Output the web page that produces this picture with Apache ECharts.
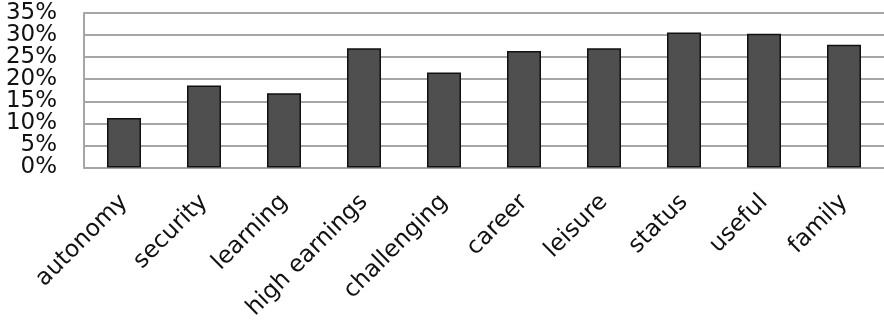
<!DOCTYPE html>
<html>
<head>
<meta charset="utf-8">
<script src="https://cdn.jsdelivr.net/npm/echarts@6/dist/echarts.min.js"></script>
<style>
  html, body { margin: 0; padding: 0; background: #ffffff; }
  #chart { width: 884px; height: 328px; }
</style>
</head>
<body>
<div id="chart"></div>
<script>
// Share of respondents naming each job attribute (percent)
const categories = ['autonomy', 'security', 'learning', 'high earnings', 'challenging',
                    'career', 'leisure', 'status', 'useful', 'family'];
const shares = [11.2, 18.6, 16.8, 27.0, 21.5, 26.4, 27.0, 30.6, 30.3, 27.8];

// Value axis ticks
const yMin = 0;
const yMax = 35;
const yStep = 5;

const labelFont = {
  fontFamily: 'DejaVu Sans',
  fontSize: 23,
  lineHeight: 16,
  color: '#111111'
};

// The percent labels are stacked tighter than their glyph height, so they are
// split across two overlaid value axes (multiples of 10 / odd multiples of 5);
// this keeps the library from dropping labels next to the min/max ones.
function percentAxis(showTens, withLines) {
  return {
    type: 'value',
    position: 'left',
    min: yMin,
    max: yMax,
    interval: yStep,
    axisLine: { show: withLines, lineStyle: { color: '#a6a6a6', width: 2 } },
    axisTick: { show: false },
    splitLine: { show: withLines, lineStyle: { color: '#a6a6a6', width: 2 } },
    axisLabel: Object.assign({
      margin: 27,
      showMinLabel: true,
      showMaxLabel: true,
      formatter: v => ((v % 10 === 0) === showTens ? v + '%' : '')
    }, labelFont)
  };
}

const chart = echarts.init(document.getElementById('chart'), null, { renderer: 'canvas' });

chart.setOption({
  animation: false,
  backgroundColor: '#ffffff',
  grid: { left: 84, right: 0, top: 13, bottom: 160.5, containLabel: false },
  xAxis: {
    type: 'category',
    data: categories,
    axisLine: { show: true, lineStyle: { color: '#a6a6a6', width: 2 } },
    axisTick: { show: false },
    axisLabel: {
      interval: 0,
      rotate: 45,
      margin: 31,
      fontFamily: 'DejaVu Sans',
      fontSize: 23.5,
      color: '#111111'
    }
  },
  yAxis: [percentAxis(true, true), percentAxis(false, false)],
  series: [{
    type: 'bar',
    yAxisIndex: 0,
    data: shares,
    barWidth: 34,
    itemStyle: { color: '#4f4f4f', borderColor: '#111111', borderWidth: 1.5 }
  }]
});
</script>
</body>
</html>
